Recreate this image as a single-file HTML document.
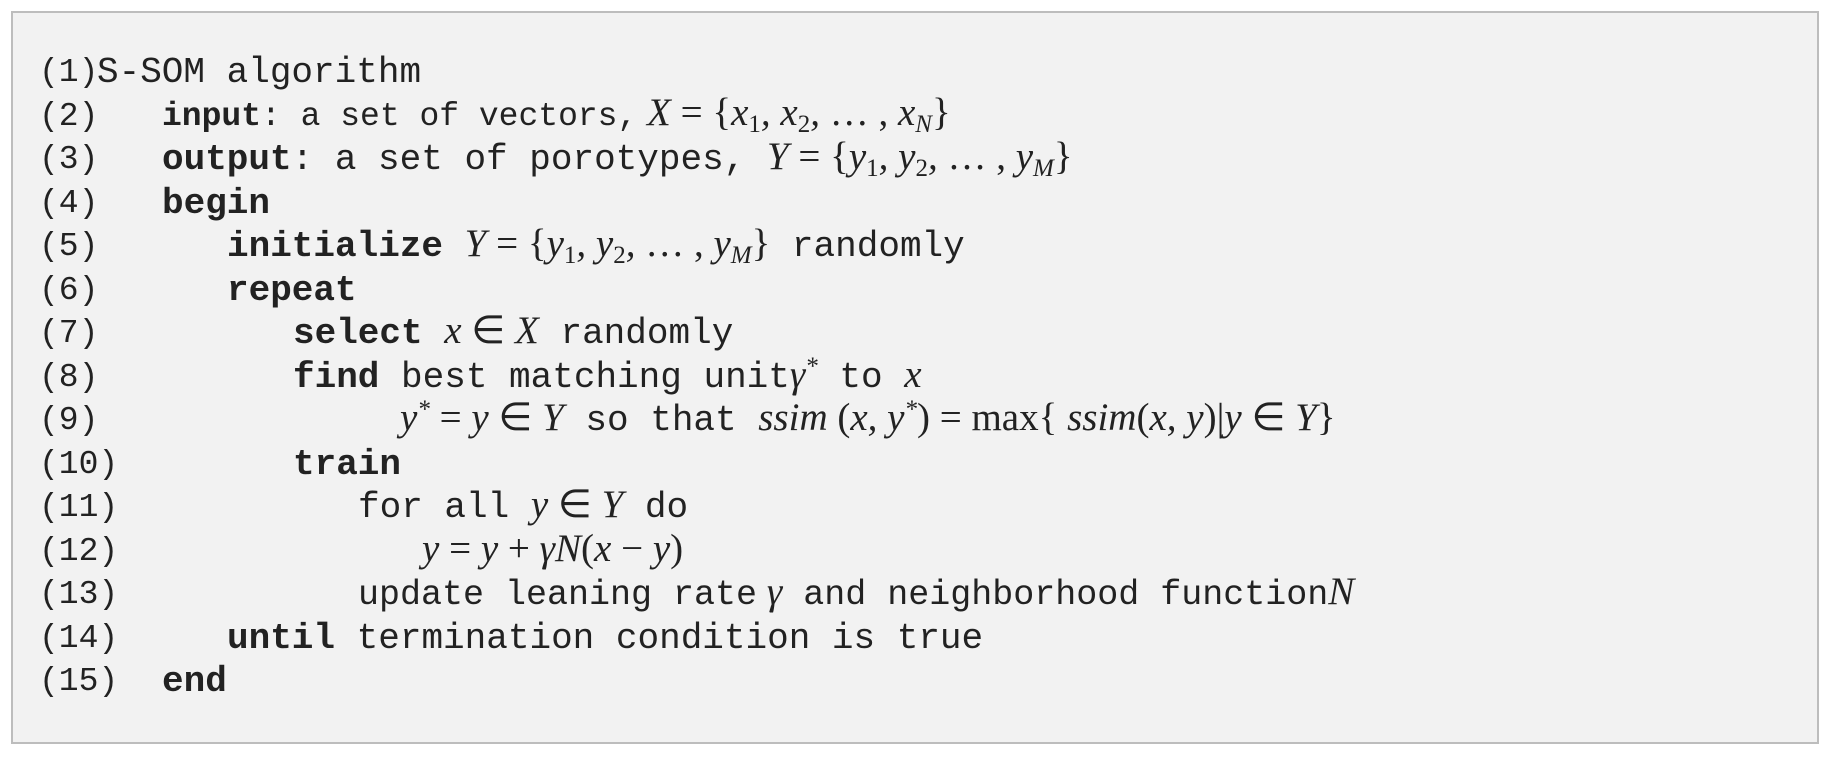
<!DOCTYPE html>
<html><head><meta charset="utf-8"><style>
html,body{margin:0;padding:0;background:#fff;}
body{width:1836px;height:758px;position:relative;overflow:hidden;}
.box{position:absolute;left:11px;top:11px;width:1808px;height:733px;background:#f2f2f2;border:2px solid #bdbdbd;box-sizing:border-box;}
.l{position:absolute;height:44px;line-height:44px;white-space:pre;font-family:"Liberation Mono",monospace;font-size:36px;color:#222;}
.n{font-size:33px;}
b{font-weight:bold;}
.m{font-family:"Liberation Serif",serif;font-style:italic;font-size:39px;line-height:0;}
.r{font-family:"Liberation Serif",serif;font-style:normal;font-size:39px;line-height:0;}
sub{font-size:25px;vertical-align:-7px;line-height:0;font-style:normal;}
sub i{font-style:italic;}
sup{font-size:25px;vertical-align:13px;line-height:0;}
</style></head><body>
<div class="box"></div>
<div class="l n" style="left:39px;top:51px">(1)</div><div class="l" style="left:97px;top:51px">S-SOM algorithm</div>
<div class="l n" style="left:39px;top:95px">(2)</div><div class="l" style="left:162px;top:95px;font-size:33px"><b>input</b>: a set of vectors,<span class="m"> X</span><span class="r"> = {</span><span class="m">x<sub>1</sub>, x<sub>2</sub>, </span><span class="r">… , </span><span class="m">x<sub><i>N</i></sub></span><span class="r">}</span></div>
<div class="l n" style="left:39px;top:138px">(3)</div><div class="l" style="left:162px;top:138px"><b>output</b>: a set of porotypes, <span class="m">Y</span><span class="r"> = {</span><span class="m">y<sub>1</sub>, y<sub>2</sub>, </span><span class="r">… , </span><span class="m">y<sub><i>M</i></sub></span><span class="r">}</span></div>
<div class="l n" style="left:39px;top:182px">(4)</div><div class="l" style="left:162px;top:182px"><b>begin</b></div>
<div class="l n" style="left:39px;top:225px">(5)</div><div class="l" style="left:227px;top:225px"><b>initialize</b> <span class="m">Y</span><span class="r"> = {</span><span class="m">y<sub>1</sub>, y<sub>2</sub>, </span><span class="r">… , </span><span class="m">y<sub><i>M</i></sub></span><span class="r">}</span> randomly</div>
<div class="l n" style="left:39px;top:269px">(6)</div><div class="l" style="left:227px;top:269px"><b>repeat</b></div>
<div class="l n" style="left:39px;top:312px">(7)</div><div class="l" style="left:293px;top:312px"><b>select</b> <span class="m">x</span><span class="r"> ∈ </span><span class="m">X</span> randomly</div>
<div class="l n" style="left:39px;top:356px">(8)</div><div class="l" style="left:293px;top:356px"><b>find</b> best matching unit<span class="m">γ<sup>*</sup></span> to <span class="m">x</span></div>
<div class="l n" style="left:39px;top:399px">(9)</div><div class="l" style="left:400px;top:399px"><span class="m">y<sup>*</sup></span><span class="r"> = </span><span class="m">y</span><span class="r"> ∈ </span><span class="m">Y</span> so that <span class="m">ssim</span><span class="r"> (</span><span class="m">x, y<sup>*</sup></span><span class="r">) = max{ </span><span class="m">ssim</span><span class="r">(</span><span class="m">x, y</span><span class="r">)|</span><span class="m">y</span><span class="r"> ∈ </span><span class="m">Y</span><span class="r">}</span></div>
<div class="l n" style="left:39px;top:443px">(10)</div><div class="l" style="left:293px;top:443px"><b>train</b></div>
<div class="l n" style="left:39px;top:486px">(11)</div><div class="l" style="left:358px;top:486px">for all <span class="m">y</span><span class="r"> ∈ </span><span class="m">Y</span> do</div>
<div class="l n" style="left:39px;top:530px">(12)</div><div class="l" style="left:422px;top:530px"><span class="m">y</span><span class="r"> = </span><span class="m">y</span><span class="r"> + </span><span class="m">γN</span><span class="r">(</span><span class="m">x</span><span class="r"> − </span><span class="m">y</span><span class="r">)</span></div>
<div class="l n" style="left:39px;top:573px">(13)</div><div class="l" style="left:358px;top:573px;font-size:35px">update leaning rate<span class="m"> γ</span> and neighborhood function<span class="m">N</span></div>
<div class="l n" style="left:39px;top:617px">(14)</div><div class="l" style="left:227px;top:617px"><b>until</b> termination condition is true</div>
<div class="l n" style="left:39px;top:660px">(15)</div><div class="l" style="left:162px;top:660px"><b>end</b></div>
</body></html>
